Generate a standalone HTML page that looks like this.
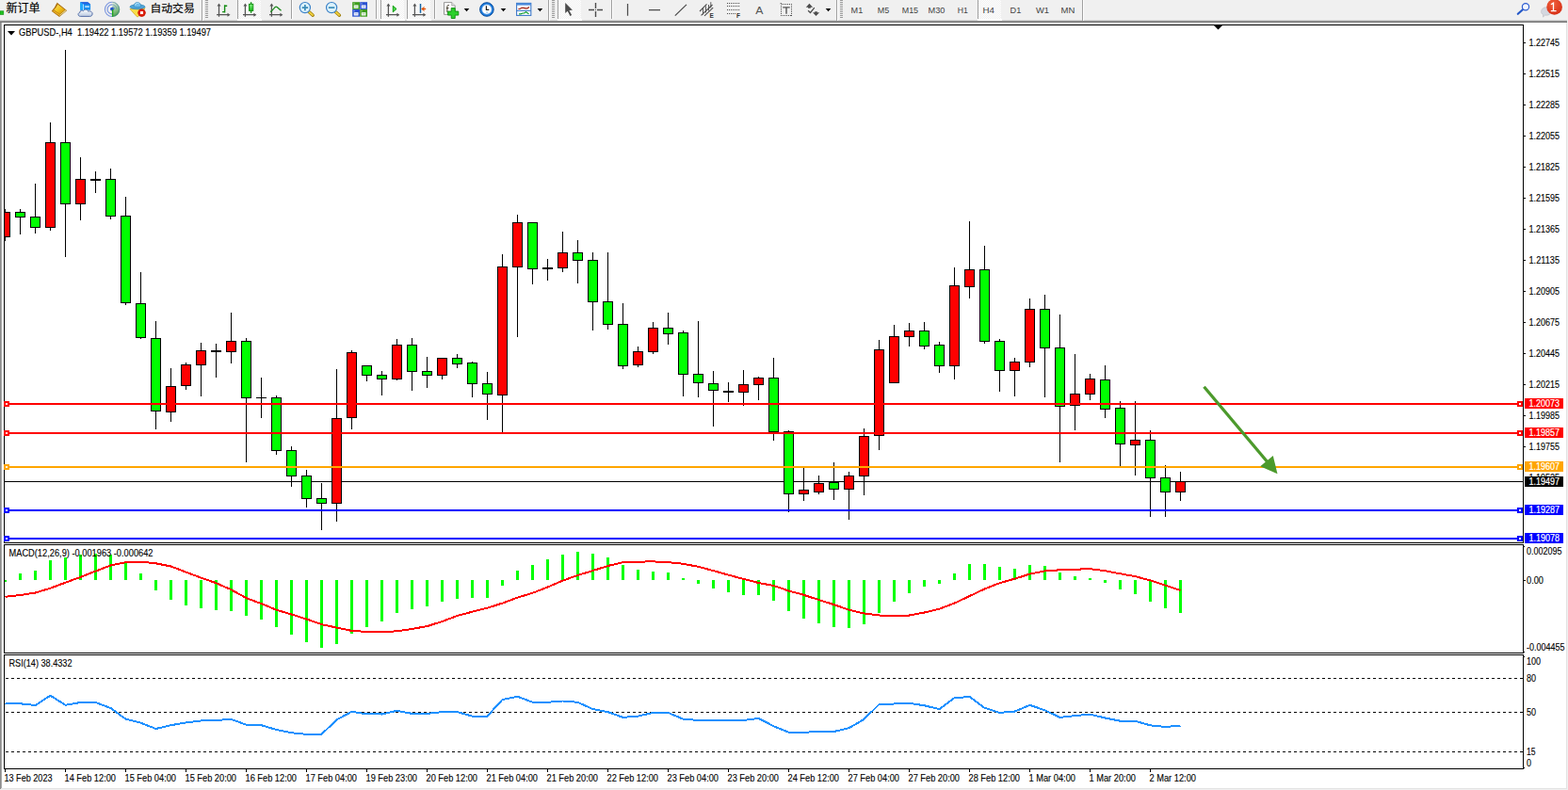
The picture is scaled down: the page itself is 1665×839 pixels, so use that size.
<!DOCTYPE html><html><head><meta charset="utf-8"><title>GBPUSD H4</title>
<style>html,body{margin:0;padding:0;background:#fff;overflow:hidden}svg{display:block}text{font-family:"Liberation Sans",sans-serif;font-size:10.200px;fill:#000;stroke:#000;stroke-width:.12px}.w{fill:#fff;stroke:#fff;stroke-width:.2px}</style></head><body>
<svg width="1665" height="839" viewBox="0 0 1665 839">
<rect width="1665" height="839" fill="#fff"/>
<rect width="1665" height="22" fill="#f0f0f0"/>
<g shape-rendering="crispEdges">
<rect x="0" y="22" width="1664" height="1" fill="#a0a0a0"/><rect x="0" y="23" width="1663" height="1" fill="#696969"/>
<rect x="0" y="22" width="1" height="817" fill="#8c8c8c"/><rect x="1" y="23" width="1" height="815" fill="#a8a8a8"/>
<rect x="1663" y="23" width="1" height="815" fill="#e3e3e3"/><rect x="1664" y="22" width="1" height="817" fill="#f0f0f0"/>
<rect x="1" y="837" width="1663" height="1" fill="#e3e3e3"/><rect x="0" y="838" width="1665" height="1" fill="#f0f0f0"/>
<rect x="4" y="26" width="1614" height="1" fill="#000"/><rect x="4" y="576" width="1614" height="1" fill="#000"/>
<rect x="4" y="26" width="1" height="551" fill="#000"/><rect x="1617" y="26" width="1" height="551" fill="#000"/>
<rect x="4" y="578" width="1614" height="1" fill="#000"/><rect x="4" y="693" width="1614" height="1" fill="#000"/>
<rect x="4" y="578" width="1" height="116" fill="#000"/><rect x="1617" y="578" width="1" height="116" fill="#000"/>
<rect x="4" y="695" width="1614" height="1" fill="#000"/><rect x="4" y="816" width="1614" height="1" fill="#000"/>
<rect x="4" y="695" width="1" height="122" fill="#000"/><rect x="1617" y="695" width="1" height="122" fill="#000"/>
</g>
<defs><clipPath id="c1"><rect x="5" y="27" width="1612" height="549"/></clipPath><clipPath id="c2"><rect x="5" y="579" width="1612" height="114"/></clipPath><clipPath id="c3"><rect x="5" y="696" width="1612" height="120"/></clipPath></defs>
<g shape-rendering="crispEdges" clip-path="url(#c1)">
<rect x="5" y="511" width="1612" height="1" fill="#000"/>
<rect x="5" y="222" width="1" height="34" fill="#000"/>
<rect x="0" y="225" width="11" height="27" fill="#000"/>
<rect x="1" y="226" width="9" height="25" fill="#ff0000"/>
<rect x="21" y="222" width="1" height="27" fill="#000"/>
<rect x="16" y="225" width="11" height="6" fill="#000"/>
<rect x="17" y="226" width="9" height="4" fill="#00ff00"/>
<rect x="37" y="195" width="1" height="53" fill="#000"/>
<rect x="32" y="230" width="11" height="12" fill="#000"/>
<rect x="33" y="231" width="9" height="10" fill="#00ff00"/>
<rect x="53" y="130" width="1" height="115" fill="#000"/>
<rect x="48" y="151" width="11" height="91" fill="#000"/>
<rect x="49" y="152" width="9" height="89" fill="#ff0000"/>
<rect x="69" y="53" width="1" height="220" fill="#000"/>
<rect x="64" y="151" width="11" height="66" fill="#000"/>
<rect x="65" y="152" width="9" height="64" fill="#00ff00"/>
<rect x="85" y="167" width="1" height="67" fill="#000"/>
<rect x="80" y="190" width="11" height="27" fill="#000"/>
<rect x="81" y="191" width="9" height="25" fill="#ff0000"/>
<rect x="101" y="182" width="1" height="23" fill="#000"/>
<rect x="96" y="190" width="11" height="2" fill="#000"/>
<rect x="117" y="179" width="1" height="54" fill="#000"/>
<rect x="112" y="190" width="11" height="40" fill="#000"/>
<rect x="113" y="191" width="9" height="38" fill="#00ff00"/>
<rect x="133" y="209" width="1" height="115" fill="#000"/>
<rect x="128" y="229" width="11" height="93" fill="#000"/>
<rect x="129" y="230" width="9" height="91" fill="#00ff00"/>
<rect x="149" y="289" width="1" height="71" fill="#000"/>
<rect x="144" y="322" width="11" height="37" fill="#000"/>
<rect x="145" y="323" width="9" height="35" fill="#00ff00"/>
<rect x="165" y="341" width="1" height="115" fill="#000"/>
<rect x="160" y="359" width="11" height="78" fill="#000"/>
<rect x="161" y="360" width="9" height="76" fill="#00ff00"/>
<rect x="181" y="391" width="1" height="57" fill="#000"/>
<rect x="176" y="410" width="11" height="28" fill="#000"/>
<rect x="177" y="411" width="9" height="26" fill="#ff0000"/>
<rect x="197" y="385" width="1" height="29" fill="#000"/>
<rect x="192" y="387" width="11" height="23" fill="#000"/>
<rect x="193" y="388" width="9" height="21" fill="#ff0000"/>
<rect x="213" y="364" width="1" height="57" fill="#000"/>
<rect x="208" y="372" width="11" height="16" fill="#000"/>
<rect x="209" y="373" width="9" height="14" fill="#ff0000"/>
<rect x="229" y="365" width="1" height="36" fill="#000"/>
<rect x="224" y="372" width="11" height="2" fill="#000"/>
<rect x="245" y="332" width="1" height="54" fill="#000"/>
<rect x="240" y="362" width="11" height="12" fill="#000"/>
<rect x="241" y="363" width="9" height="10" fill="#ff0000"/>
<rect x="261" y="359" width="1" height="132" fill="#000"/>
<rect x="256" y="362" width="11" height="61" fill="#000"/>
<rect x="257" y="363" width="9" height="59" fill="#00ff00"/>
<rect x="277" y="401" width="1" height="43" fill="#000"/>
<rect x="272" y="422" width="11" height="1" fill="#000"/>
<rect x="293" y="420" width="1" height="63" fill="#000"/>
<rect x="288" y="422" width="11" height="57" fill="#000"/>
<rect x="289" y="423" width="9" height="55" fill="#00ff00"/>
<rect x="309" y="474" width="1" height="43" fill="#000"/>
<rect x="304" y="478" width="11" height="28" fill="#000"/>
<rect x="305" y="479" width="9" height="26" fill="#00ff00"/>
<rect x="325" y="499" width="1" height="40" fill="#000"/>
<rect x="320" y="505" width="11" height="25" fill="#000"/>
<rect x="321" y="506" width="9" height="23" fill="#00ff00"/>
<rect x="341" y="513" width="1" height="50" fill="#000"/>
<rect x="336" y="529" width="11" height="6" fill="#000"/>
<rect x="337" y="530" width="9" height="4" fill="#00ff00"/>
<rect x="357" y="392" width="1" height="162" fill="#000"/>
<rect x="352" y="444" width="11" height="91" fill="#000"/>
<rect x="353" y="445" width="9" height="89" fill="#ff0000"/>
<rect x="373" y="372" width="1" height="84" fill="#000"/>
<rect x="368" y="374" width="11" height="70" fill="#000"/>
<rect x="369" y="375" width="9" height="68" fill="#ff0000"/>
<rect x="389" y="388" width="1" height="17" fill="#000"/>
<rect x="384" y="388" width="11" height="11" fill="#000"/>
<rect x="385" y="389" width="9" height="9" fill="#00ff00"/>
<rect x="405" y="394" width="1" height="26" fill="#000"/>
<rect x="400" y="398" width="11" height="5" fill="#000"/>
<rect x="401" y="399" width="9" height="3" fill="#00ff00"/>
<rect x="421" y="360" width="1" height="44" fill="#000"/>
<rect x="416" y="366" width="11" height="37" fill="#000"/>
<rect x="417" y="367" width="9" height="35" fill="#ff0000"/>
<rect x="437" y="359" width="1" height="56" fill="#000"/>
<rect x="432" y="366" width="11" height="29" fill="#000"/>
<rect x="433" y="367" width="9" height="27" fill="#00ff00"/>
<rect x="453" y="379" width="1" height="33" fill="#000"/>
<rect x="448" y="394" width="11" height="5" fill="#000"/>
<rect x="449" y="395" width="9" height="3" fill="#00ff00"/>
<rect x="469" y="380" width="1" height="23" fill="#000"/>
<rect x="464" y="380" width="11" height="19" fill="#000"/>
<rect x="465" y="381" width="9" height="17" fill="#ff0000"/>
<rect x="485" y="376" width="1" height="15" fill="#000"/>
<rect x="480" y="380" width="11" height="7" fill="#000"/>
<rect x="481" y="381" width="9" height="5" fill="#00ff00"/>
<rect x="501" y="384" width="1" height="38" fill="#000"/>
<rect x="496" y="385" width="11" height="23" fill="#000"/>
<rect x="497" y="386" width="9" height="21" fill="#00ff00"/>
<rect x="517" y="395" width="1" height="51" fill="#000"/>
<rect x="512" y="407" width="11" height="12" fill="#000"/>
<rect x="513" y="408" width="9" height="10" fill="#00ff00"/>
<rect x="533" y="270" width="1" height="190" fill="#000"/>
<rect x="528" y="283" width="11" height="137" fill="#000"/>
<rect x="529" y="284" width="9" height="135" fill="#ff0000"/>
<rect x="549" y="228" width="1" height="130" fill="#000"/>
<rect x="544" y="236" width="11" height="48" fill="#000"/>
<rect x="545" y="237" width="9" height="46" fill="#ff0000"/>
<rect x="565" y="236" width="1" height="66" fill="#000"/>
<rect x="560" y="236" width="11" height="50" fill="#000"/>
<rect x="561" y="237" width="9" height="48" fill="#00ff00"/>
<rect x="581" y="275" width="1" height="23" fill="#000"/>
<rect x="576" y="284" width="11" height="2" fill="#000"/>
<rect x="597" y="246" width="1" height="43" fill="#000"/>
<rect x="592" y="268" width="11" height="17" fill="#000"/>
<rect x="593" y="269" width="9" height="15" fill="#ff0000"/>
<rect x="613" y="255" width="1" height="46" fill="#000"/>
<rect x="608" y="268" width="11" height="9" fill="#000"/>
<rect x="609" y="269" width="9" height="7" fill="#00ff00"/>
<rect x="629" y="268" width="1" height="83" fill="#000"/>
<rect x="624" y="276" width="11" height="45" fill="#000"/>
<rect x="625" y="277" width="9" height="43" fill="#00ff00"/>
<rect x="645" y="268" width="1" height="82" fill="#000"/>
<rect x="640" y="320" width="11" height="25" fill="#000"/>
<rect x="641" y="321" width="9" height="23" fill="#00ff00"/>
<rect x="661" y="322" width="1" height="70" fill="#000"/>
<rect x="656" y="344" width="11" height="45" fill="#000"/>
<rect x="657" y="345" width="9" height="43" fill="#00ff00"/>
<rect x="677" y="368" width="1" height="22" fill="#000"/>
<rect x="672" y="373" width="11" height="15" fill="#000"/>
<rect x="673" y="374" width="9" height="13" fill="#ff0000"/>
<rect x="693" y="342" width="1" height="34" fill="#000"/>
<rect x="688" y="348" width="11" height="26" fill="#000"/>
<rect x="689" y="349" width="9" height="24" fill="#ff0000"/>
<rect x="709" y="332" width="1" height="34" fill="#000"/>
<rect x="704" y="348" width="11" height="7" fill="#000"/>
<rect x="705" y="349" width="9" height="5" fill="#00ff00"/>
<rect x="725" y="351" width="1" height="70" fill="#000"/>
<rect x="720" y="353" width="11" height="45" fill="#000"/>
<rect x="721" y="354" width="9" height="43" fill="#00ff00"/>
<rect x="741" y="341" width="1" height="81" fill="#000"/>
<rect x="736" y="397" width="11" height="10" fill="#000"/>
<rect x="737" y="398" width="9" height="8" fill="#00ff00"/>
<rect x="757" y="394" width="1" height="59" fill="#000"/>
<rect x="752" y="407" width="11" height="8" fill="#000"/>
<rect x="753" y="408" width="9" height="6" fill="#00ff00"/>
<rect x="773" y="406" width="1" height="21" fill="#000"/>
<rect x="768" y="415" width="11" height="2" fill="#000"/>
<rect x="789" y="393" width="1" height="38" fill="#000"/>
<rect x="784" y="408" width="11" height="9" fill="#000"/>
<rect x="785" y="409" width="9" height="7" fill="#ff0000"/>
<rect x="805" y="400" width="1" height="25" fill="#000"/>
<rect x="800" y="401" width="11" height="8" fill="#000"/>
<rect x="801" y="402" width="9" height="6" fill="#ff0000"/>
<rect x="821" y="380" width="1" height="88" fill="#000"/>
<rect x="816" y="401" width="11" height="58" fill="#000"/>
<rect x="817" y="402" width="9" height="56" fill="#00ff00"/>
<rect x="837" y="457" width="1" height="87" fill="#000"/>
<rect x="832" y="458" width="11" height="67" fill="#000"/>
<rect x="833" y="459" width="9" height="65" fill="#00ff00"/>
<rect x="853" y="497" width="1" height="35" fill="#000"/>
<rect x="848" y="520" width="11" height="5" fill="#000"/>
<rect x="849" y="521" width="9" height="3" fill="#ff0000"/>
<rect x="869" y="505" width="1" height="20" fill="#000"/>
<rect x="864" y="513" width="11" height="10" fill="#000"/>
<rect x="865" y="514" width="9" height="8" fill="#ff0000"/>
<rect x="885" y="491" width="1" height="40" fill="#000"/>
<rect x="880" y="512" width="11" height="8" fill="#000"/>
<rect x="881" y="513" width="9" height="6" fill="#00ff00"/>
<rect x="901" y="501" width="1" height="51" fill="#000"/>
<rect x="896" y="505" width="11" height="15" fill="#000"/>
<rect x="897" y="506" width="9" height="13" fill="#ff0000"/>
<rect x="917" y="455" width="1" height="71" fill="#000"/>
<rect x="912" y="463" width="11" height="43" fill="#000"/>
<rect x="913" y="464" width="9" height="41" fill="#ff0000"/>
<rect x="933" y="361" width="1" height="117" fill="#000"/>
<rect x="928" y="371" width="11" height="92" fill="#000"/>
<rect x="929" y="372" width="9" height="90" fill="#ff0000"/>
<rect x="949" y="345" width="1" height="62" fill="#000"/>
<rect x="944" y="357" width="11" height="50" fill="#000"/>
<rect x="945" y="358" width="9" height="48" fill="#ff0000"/>
<rect x="965" y="343" width="1" height="25" fill="#000"/>
<rect x="960" y="351" width="11" height="7" fill="#000"/>
<rect x="961" y="352" width="9" height="5" fill="#ff0000"/>
<rect x="981" y="342" width="1" height="29" fill="#000"/>
<rect x="976" y="351" width="11" height="17" fill="#000"/>
<rect x="977" y="352" width="9" height="15" fill="#00ff00"/>
<rect x="997" y="363" width="1" height="33" fill="#000"/>
<rect x="992" y="366" width="11" height="23" fill="#000"/>
<rect x="993" y="367" width="9" height="21" fill="#00ff00"/>
<rect x="1013" y="284" width="1" height="119" fill="#000"/>
<rect x="1008" y="303" width="11" height="86" fill="#000"/>
<rect x="1009" y="304" width="9" height="84" fill="#ff0000"/>
<rect x="1029" y="235" width="1" height="82" fill="#000"/>
<rect x="1024" y="286" width="11" height="19" fill="#000"/>
<rect x="1025" y="287" width="9" height="17" fill="#ff0000"/>
<rect x="1045" y="261" width="1" height="104" fill="#000"/>
<rect x="1040" y="286" width="11" height="77" fill="#000"/>
<rect x="1041" y="287" width="9" height="75" fill="#00ff00"/>
<rect x="1061" y="360" width="1" height="56" fill="#000"/>
<rect x="1056" y="362" width="11" height="32" fill="#000"/>
<rect x="1057" y="363" width="9" height="30" fill="#00ff00"/>
<rect x="1077" y="380" width="1" height="41" fill="#000"/>
<rect x="1072" y="384" width="11" height="10" fill="#000"/>
<rect x="1073" y="385" width="9" height="8" fill="#ff0000"/>
<rect x="1093" y="317" width="1" height="73" fill="#000"/>
<rect x="1088" y="328" width="11" height="57" fill="#000"/>
<rect x="1089" y="329" width="9" height="55" fill="#ff0000"/>
<rect x="1109" y="313" width="1" height="109" fill="#000"/>
<rect x="1104" y="328" width="11" height="42" fill="#000"/>
<rect x="1105" y="329" width="9" height="40" fill="#00ff00"/>
<rect x="1125" y="334" width="1" height="157" fill="#000"/>
<rect x="1120" y="369" width="11" height="63" fill="#000"/>
<rect x="1121" y="370" width="9" height="61" fill="#00ff00"/>
<rect x="1141" y="376" width="1" height="81" fill="#000"/>
<rect x="1136" y="418" width="11" height="13" fill="#000"/>
<rect x="1137" y="419" width="9" height="11" fill="#ff0000"/>
<rect x="1157" y="397" width="1" height="28" fill="#000"/>
<rect x="1152" y="402" width="11" height="17" fill="#000"/>
<rect x="1153" y="403" width="9" height="15" fill="#ff0000"/>
<rect x="1173" y="388" width="1" height="56" fill="#000"/>
<rect x="1168" y="403" width="11" height="32" fill="#000"/>
<rect x="1169" y="404" width="9" height="30" fill="#00ff00"/>
<rect x="1189" y="426" width="1" height="70" fill="#000"/>
<rect x="1184" y="433" width="11" height="39" fill="#000"/>
<rect x="1185" y="434" width="9" height="37" fill="#00ff00"/>
<rect x="1205" y="426" width="1" height="79" fill="#000"/>
<rect x="1200" y="467" width="11" height="6" fill="#000"/>
<rect x="1201" y="468" width="9" height="4" fill="#ff0000"/>
<rect x="1221" y="457" width="1" height="92" fill="#000"/>
<rect x="1216" y="467" width="11" height="41" fill="#000"/>
<rect x="1217" y="468" width="9" height="39" fill="#00ff00"/>
<rect x="1237" y="494" width="1" height="55" fill="#000"/>
<rect x="1232" y="507" width="11" height="16" fill="#000"/>
<rect x="1233" y="508" width="9" height="14" fill="#00ff00"/>
<rect x="1253" y="501" width="1" height="31" fill="#000"/>
<rect x="1248" y="511" width="11" height="12" fill="#000"/>
<rect x="1249" y="512" width="9" height="10" fill="#ff0000"/>
<rect x="5" y="428" width="1612" height="2" fill="#ff0000"/>
<rect x="5" y="459" width="1612" height="2" fill="#ff0000"/>
<rect x="5" y="495" width="1612" height="2" fill="#ffa500"/>
<rect x="5" y="541" width="1612" height="2" fill="#0000ff"/>
<rect x="5" y="571" width="1612" height="2" fill="#0000ff"/>
</g>
<g shape-rendering="crispEdges">
<rect x="4" y="426" width="6" height="6" fill="#ff0000"/><rect x="6" y="428" width="2" height="2" fill="#fff"/>
<rect x="1611" y="426" width="6" height="6" fill="#ff0000"/><rect x="1613" y="428" width="2" height="2" fill="#fff"/>
<rect x="1619" y="423" width="41" height="11" fill="#ff0000"/>
<rect x="4" y="457" width="6" height="6" fill="#ff0000"/><rect x="6" y="459" width="2" height="2" fill="#fff"/>
<rect x="1611" y="457" width="6" height="6" fill="#ff0000"/><rect x="1613" y="459" width="2" height="2" fill="#fff"/>
<rect x="1619" y="454" width="41" height="11" fill="#ff0000"/>
<rect x="4" y="493" width="6" height="6" fill="#ffa500"/><rect x="6" y="495" width="2" height="2" fill="#fff"/>
<rect x="1611" y="493" width="6" height="6" fill="#ffa500"/><rect x="1613" y="495" width="2" height="2" fill="#fff"/>
<rect x="1619" y="490" width="41" height="11" fill="#ffa500"/>
<rect x="4" y="539" width="6" height="6" fill="#0000ff"/><rect x="6" y="541" width="2" height="2" fill="#fff"/>
<rect x="1611" y="539" width="6" height="6" fill="#0000ff"/><rect x="1613" y="541" width="2" height="2" fill="#fff"/>
<rect x="1619" y="536" width="41" height="11" fill="#0000ff"/>
<rect x="4" y="569" width="6" height="6" fill="#0000ff"/><rect x="6" y="571" width="2" height="2" fill="#fff"/>
<rect x="1611" y="569" width="6" height="6" fill="#0000ff"/><rect x="1613" y="571" width="2" height="2" fill="#fff"/>
<rect x="1619" y="566" width="41" height="11" fill="#0000ff"/>
<rect x="1619" y="506" width="41" height="11" fill="#000"/>
<rect x="1618" y="45" width="2" height="1" fill="#000"/>
<rect x="1618" y="78" width="2" height="1" fill="#000"/>
<rect x="1618" y="111" width="2" height="1" fill="#000"/>
<rect x="1618" y="144" width="2" height="1" fill="#000"/>
<rect x="1618" y="177" width="2" height="1" fill="#000"/>
<rect x="1618" y="210" width="2" height="1" fill="#000"/>
<rect x="1618" y="243" width="2" height="1" fill="#000"/>
<rect x="1618" y="276" width="2" height="1" fill="#000"/>
<rect x="1618" y="309" width="2" height="1" fill="#000"/>
<rect x="1618" y="342" width="2" height="1" fill="#000"/>
<rect x="1618" y="375" width="2" height="1" fill="#000"/>
<rect x="1618" y="408" width="2" height="1" fill="#000"/>
<rect x="1618" y="441" width="2" height="1" fill="#000"/>
<rect x="1618" y="474" width="2" height="1" fill="#000"/>
</g>
<text x="1623.5" y="49" textLength="32.5" lengthAdjust="spacingAndGlyphs">1.22745</text>
<text x="1623.5" y="82" textLength="32.5" lengthAdjust="spacingAndGlyphs">1.22515</text>
<text x="1623.5" y="115" textLength="32.5" lengthAdjust="spacingAndGlyphs">1.22285</text>
<text x="1623.5" y="148" textLength="32.5" lengthAdjust="spacingAndGlyphs">1.22055</text>
<text x="1623.5" y="181" textLength="32.5" lengthAdjust="spacingAndGlyphs">1.21825</text>
<text x="1623.5" y="214" textLength="32.5" lengthAdjust="spacingAndGlyphs">1.21595</text>
<text x="1623.5" y="247" textLength="32.5" lengthAdjust="spacingAndGlyphs">1.21365</text>
<text x="1623.5" y="280" textLength="32.5" lengthAdjust="spacingAndGlyphs">1.21135</text>
<text x="1623.5" y="313" textLength="32.5" lengthAdjust="spacingAndGlyphs">1.20905</text>
<text x="1623.5" y="346" textLength="32.5" lengthAdjust="spacingAndGlyphs">1.20675</text>
<text x="1623.5" y="379" textLength="32.5" lengthAdjust="spacingAndGlyphs">1.20445</text>
<text x="1623.5" y="412" textLength="32.5" lengthAdjust="spacingAndGlyphs">1.20215</text>
<text x="1623.5" y="445" textLength="32.5" lengthAdjust="spacingAndGlyphs">1.19985</text>
<text x="1623.5" y="478" textLength="32.5" lengthAdjust="spacingAndGlyphs">1.19755</text>
<text x="1623.5" y="511" textLength="32.5" lengthAdjust="spacingAndGlyphs">1.19525</text>
<rect x="1619" y="506" width="41" height="11" fill="#000"/>
<text x="1623.5" y="432" class="w" textLength="32.5" lengthAdjust="spacingAndGlyphs">1.20073</text>
<text x="1623.5" y="463" class="w" textLength="32.5" lengthAdjust="spacingAndGlyphs">1.19857</text>
<text x="1623.5" y="499" class="w" textLength="32.5" lengthAdjust="spacingAndGlyphs">1.19607</text>
<text x="1623.5" y="545" class="w" textLength="32.5" lengthAdjust="spacingAndGlyphs">1.19287</text>
<text x="1623.5" y="575" class="w" textLength="32.5" lengthAdjust="spacingAndGlyphs">1.19078</text>
<text x="1623.5" y="515" class="w" textLength="32.5" lengthAdjust="spacingAndGlyphs">1.19497</text>
<path d="M8 33h8l-4 4.5z" fill="#000"/>
<text x="20" y="38" textLength="204" lengthAdjust="spacingAndGlyphs" xml:space="preserve">GBPUSD-,H4&#160;&#160;1.19422 1.19572 1.19359 1.19497</text>
<path d="M1289 27h9l-4.5 4.5z" fill="#000"/>
<g><line x1="1278.5" y1="410.800" x2="1345.500" y2="490.200" stroke="#4c9a2c" stroke-width="3.300"/><path d="M1356.500 503.300L1351.800 484L1338.200 495.300z" fill="#4c9a2c"/></g>
<g shape-rendering="crispEdges" clip-path="url(#c2)">
<rect x="4" y="616" width="3" height="2" fill="#00ff00"/>
<rect x="20" y="609" width="3" height="7" fill="#00ff00"/>
<rect x="36" y="606" width="3" height="10" fill="#00ff00"/>
<rect x="52" y="595" width="3" height="21" fill="#00ff00"/>
<rect x="68" y="592" width="3" height="24" fill="#00ff00"/>
<rect x="84" y="589" width="3" height="27" fill="#00ff00"/>
<rect x="100" y="588" width="3" height="28" fill="#00ff00"/>
<rect x="116" y="589" width="3" height="27" fill="#00ff00"/>
<rect x="132" y="598" width="3" height="18" fill="#00ff00"/>
<rect x="148" y="609" width="3" height="7" fill="#00ff00"/>
<rect x="164" y="616" width="3" height="11" fill="#00ff00"/>
<rect x="180" y="616" width="3" height="21" fill="#00ff00"/>
<rect x="196" y="616" width="3" height="27" fill="#00ff00"/>
<rect x="212" y="616" width="3" height="30" fill="#00ff00"/>
<rect x="228" y="616" width="3" height="32" fill="#00ff00"/>
<rect x="244" y="616" width="3" height="33" fill="#00ff00"/>
<rect x="260" y="616" width="3" height="38" fill="#00ff00"/>
<rect x="276" y="616" width="3" height="42" fill="#00ff00"/>
<rect x="292" y="616" width="3" height="50" fill="#00ff00"/>
<rect x="308" y="616" width="3" height="58" fill="#00ff00"/>
<rect x="324" y="616" width="3" height="66" fill="#00ff00"/>
<rect x="340" y="616" width="3" height="72" fill="#00ff00"/>
<rect x="356" y="616" width="3" height="68" fill="#00ff00"/>
<rect x="372" y="616" width="3" height="57" fill="#00ff00"/>
<rect x="388" y="616" width="3" height="50" fill="#00ff00"/>
<rect x="404" y="616" width="3" height="44" fill="#00ff00"/>
<rect x="420" y="616" width="3" height="35" fill="#00ff00"/>
<rect x="436" y="616" width="3" height="31" fill="#00ff00"/>
<rect x="452" y="616" width="3" height="28" fill="#00ff00"/>
<rect x="468" y="616" width="3" height="23" fill="#00ff00"/>
<rect x="484" y="616" width="3" height="20" fill="#00ff00"/>
<rect x="500" y="616" width="3" height="19" fill="#00ff00"/>
<rect x="516" y="616" width="3" height="19" fill="#00ff00"/>
<rect x="532" y="616" width="3" height="6" fill="#00ff00"/>
<rect x="548" y="606" width="3" height="10" fill="#00ff00"/>
<rect x="564" y="600" width="3" height="16" fill="#00ff00"/>
<rect x="580" y="594" width="3" height="22" fill="#00ff00"/>
<rect x="596" y="589" width="3" height="27" fill="#00ff00"/>
<rect x="612" y="586" width="3" height="30" fill="#00ff00"/>
<rect x="628" y="588" width="3" height="28" fill="#00ff00"/>
<rect x="644" y="592" width="3" height="24" fill="#00ff00"/>
<rect x="660" y="600" width="3" height="16" fill="#00ff00"/>
<rect x="676" y="605" width="3" height="11" fill="#00ff00"/>
<rect x="692" y="607" width="3" height="9" fill="#00ff00"/>
<rect x="708" y="608" width="3" height="8" fill="#00ff00"/>
<rect x="724" y="614" width="3" height="2" fill="#00ff00"/>
<rect x="740" y="616" width="3" height="4" fill="#00ff00"/>
<rect x="756" y="616" width="3" height="9" fill="#00ff00"/>
<rect x="772" y="616" width="3" height="13" fill="#00ff00"/>
<rect x="788" y="616" width="3" height="16" fill="#00ff00"/>
<rect x="804" y="616" width="3" height="16" fill="#00ff00"/>
<rect x="820" y="616" width="3" height="22" fill="#00ff00"/>
<rect x="836" y="616" width="3" height="33" fill="#00ff00"/>
<rect x="852" y="616" width="3" height="41" fill="#00ff00"/>
<rect x="868" y="616" width="3" height="46" fill="#00ff00"/>
<rect x="884" y="616" width="3" height="50" fill="#00ff00"/>
<rect x="900" y="616" width="3" height="51" fill="#00ff00"/>
<rect x="916" y="616" width="3" height="47" fill="#00ff00"/>
<rect x="932" y="616" width="3" height="35" fill="#00ff00"/>
<rect x="948" y="616" width="3" height="23" fill="#00ff00"/>
<rect x="964" y="616" width="3" height="14" fill="#00ff00"/>
<rect x="980" y="616" width="3" height="7" fill="#00ff00"/>
<rect x="996" y="616" width="3" height="4" fill="#00ff00"/>
<rect x="1012" y="609" width="3" height="7" fill="#00ff00"/>
<rect x="1028" y="599" width="3" height="17" fill="#00ff00"/>
<rect x="1044" y="599" width="3" height="17" fill="#00ff00"/>
<rect x="1060" y="602" width="3" height="14" fill="#00ff00"/>
<rect x="1076" y="604" width="3" height="12" fill="#00ff00"/>
<rect x="1092" y="600" width="3" height="16" fill="#00ff00"/>
<rect x="1108" y="601" width="3" height="15" fill="#00ff00"/>
<rect x="1124" y="608" width="3" height="8" fill="#00ff00"/>
<rect x="1140" y="612" width="3" height="4" fill="#00ff00"/>
<rect x="1156" y="614" width="3" height="2" fill="#00ff00"/>
<rect x="1172" y="616" width="3" height="3" fill="#00ff00"/>
<rect x="1188" y="616" width="3" height="10" fill="#00ff00"/>
<rect x="1204" y="616" width="3" height="15" fill="#00ff00"/>
<rect x="1220" y="616" width="3" height="23" fill="#00ff00"/>
<rect x="1236" y="616" width="3" height="30" fill="#00ff00"/>
<rect x="1252" y="616" width="3" height="35" fill="#00ff00"/>
</g>
<polyline points="5.5,633.8 21.5,632.0 37.5,629.5 53.5,624.7 69.5,618.7 85.5,612.9 101.5,606.6 117.5,600.5 133.5,597.2 149.5,596.7 165.5,598.3 181.5,601.5 197.5,607.6 213.5,613.6 229.5,619.2 245.5,626.3 261.5,635.1 277.5,641.1 293.5,647.7 309.5,652.5 325.5,657.5 341.5,663.1 357.5,666.6 373.5,669.9 389.5,670.9 405.5,670.9 421.5,670.4 437.5,667.9 453.5,665.1 469.5,660.0 485.5,654.0 501.5,649.7 517.5,645.7 533.5,640.6 549.5,634.6 565.5,629.8 581.5,623.5 597.5,616.7 613.5,610.9 629.5,606.1 645.5,601.0 661.5,597.2 677.5,596.6 693.5,596.4 709.5,597.2 725.5,598.8 741.5,601.8 757.5,606.1 773.5,610.6 789.5,614.9 805.5,619.0 821.5,622.0 837.5,627.5 853.5,631.8 869.5,637.1 885.5,642.1 901.5,647.7 917.5,651.5 933.5,653.5 949.5,653.5 965.5,653.5 981.5,650.5 997.5,646.7 1013.5,640.6 1029.5,633.1 1045.5,625.5 1061.5,619.2 1077.5,614.7 1093.5,609.6 1109.5,606.4 1125.5,605.3 1141.5,604.7 1157.5,604.2 1173.5,606.2 1189.5,609.3 1205.5,612.2 1221.5,616.4 1237.5,621.6 1253.5,627.0" fill="none" stroke="#ff0000" stroke-width="2" stroke-linejoin="round" shape-rendering="crispEdges" clip-path="url(#c2)"/>
<text x="9.5" y="591" textLength="153" lengthAdjust="spacingAndGlyphs">MACD(12,26,9) -0.001963 -0.000642</text>
<g shape-rendering="crispEdges"><rect x="1618" y="580" width="1" height="1" fill="#000"/><rect x="1618" y="616" width="2" height="1" fill="#000"/><rect x="1618" y="692" width="1" height="1" fill="#000"/><rect x="1618" y="697" width="1" height="1" fill="#000"/><rect x="1618" y="815" width="1" height="1" fill="#000"/></g>
<text x="1621" y="589" textLength="37.5" lengthAdjust="spacingAndGlyphs">0.002095</text>
<text x="1621" y="620" textLength="18" lengthAdjust="spacingAndGlyphs">0.00</text>
<text x="1621" y="690.5" textLength="40.5" lengthAdjust="spacingAndGlyphs">-0.004455</text>
<g shape-rendering="crispEdges">
<line x1="6" y1="720.5" x2="1617" y2="720.5" stroke="#000" stroke-width="1" stroke-dasharray="3 3"/>
<line x1="6" y1="756.5" x2="1617" y2="756.5" stroke="#000" stroke-width="1" stroke-dasharray="3 3"/>
<line x1="6" y1="798.5" x2="1617" y2="798.5" stroke="#000" stroke-width="1" stroke-dasharray="3 3"/>
</g>
<polyline points="5.5,747.0 21.5,747.3 37.5,749.0 53.5,738.7 69.5,748.8 85.5,746.0 101.5,746.0 117.5,752.0 133.5,763.7 149.5,767.7 165.5,774.0 181.5,770.2 197.5,767.4 213.5,765.4 229.5,764.9 245.5,763.9 261.5,769.7 277.5,770.2 293.5,775.0 309.5,778.3 325.5,779.8 341.5,779.8 357.5,764.4 373.5,755.8 389.5,758.4 405.5,758.5 421.5,754.8 437.5,757.9 453.5,757.9 469.5,756.1 485.5,756.1 501.5,760.6 517.5,760.6 533.5,743.0 549.5,739.7 565.5,745.8 581.5,745.8 597.5,744.5 613.5,745.8 629.5,753.1 645.5,756.1 661.5,761.9 677.5,760.6 693.5,756.9 709.5,756.9 725.5,763.7 741.5,764.9 757.5,764.9 773.5,764.9 789.5,764.9 805.5,762.9 821.5,771.2 837.5,777.8 853.5,777.8 869.5,777.0 885.5,777.0 901.5,773.2 917.5,763.9 933.5,748.0 949.5,747.5 965.5,746.8 981.5,749.3 997.5,753.1 1013.5,741.2 1029.5,740.0 1045.5,751.8 1061.5,756.9 1077.5,755.6 1093.5,748.8 1109.5,754.3 1125.5,761.9 1141.5,760.1 1157.5,758.6 1173.5,762.5 1189.5,765.7 1205.5,765.7 1221.5,770.4 1237.5,771.9 1253.5,770.7" fill="none" stroke="#1e90ff" stroke-width="2" stroke-linejoin="round" shape-rendering="crispEdges" clip-path="url(#c3)"/>
<text x="9.5" y="708" textLength="67" lengthAdjust="spacingAndGlyphs">RSI(14) 38.4332</text>
<text x="1621" y="706" textLength="15" lengthAdjust="spacingAndGlyphs">100</text>
<text x="1621" y="724" textLength="10" lengthAdjust="spacingAndGlyphs">80</text>
<text x="1621" y="760" textLength="10" lengthAdjust="spacingAndGlyphs">50</text>
<text x="1621" y="802" textLength="9.5" lengthAdjust="spacingAndGlyphs">15</text>
<text x="1621" y="814" textLength="5" lengthAdjust="spacingAndGlyphs">0</text>
<g shape-rendering="crispEdges">
<rect x="5" y="817" width="1" height="3" fill="#000"/>
<rect x="69" y="817" width="1" height="3" fill="#000"/>
<rect x="133" y="817" width="1" height="3" fill="#000"/>
<rect x="197" y="817" width="1" height="3" fill="#000"/>
<rect x="261" y="817" width="1" height="3" fill="#000"/>
<rect x="325" y="817" width="1" height="3" fill="#000"/>
<rect x="389" y="817" width="1" height="3" fill="#000"/>
<rect x="453" y="817" width="1" height="3" fill="#000"/>
<rect x="517" y="817" width="1" height="3" fill="#000"/>
<rect x="581" y="817" width="1" height="3" fill="#000"/>
<rect x="645" y="817" width="1" height="3" fill="#000"/>
<rect x="709" y="817" width="1" height="3" fill="#000"/>
<rect x="773" y="817" width="1" height="3" fill="#000"/>
<rect x="837" y="817" width="1" height="3" fill="#000"/>
<rect x="901" y="817" width="1" height="3" fill="#000"/>
<rect x="965" y="817" width="1" height="3" fill="#000"/>
<rect x="1029" y="817" width="1" height="3" fill="#000"/>
<rect x="1093" y="817" width="1" height="3" fill="#000"/>
<rect x="1157" y="817" width="1" height="3" fill="#000"/>
<rect x="1221" y="817" width="1" height="3" fill="#000"/>
</g>
<text x="4.5" y="829.5" textLength="51" lengthAdjust="spacingAndGlyphs">13 Feb 2023</text>
<text x="68.5" y="829.5" textLength="54.5" lengthAdjust="spacingAndGlyphs">14 Feb 12:00</text>
<text x="132.5" y="829.5" textLength="54.5" lengthAdjust="spacingAndGlyphs">15 Feb 04:00</text>
<text x="196.5" y="829.5" textLength="54.5" lengthAdjust="spacingAndGlyphs">15 Feb 20:00</text>
<text x="260.5" y="829.5" textLength="54.5" lengthAdjust="spacingAndGlyphs">16 Feb 12:00</text>
<text x="324.5" y="829.5" textLength="54.5" lengthAdjust="spacingAndGlyphs">17 Feb 04:00</text>
<text x="388.5" y="829.5" textLength="54.5" lengthAdjust="spacingAndGlyphs">19 Feb 23:00</text>
<text x="452.5" y="829.5" textLength="54.5" lengthAdjust="spacingAndGlyphs">20 Feb 12:00</text>
<text x="516.5" y="829.5" textLength="54.5" lengthAdjust="spacingAndGlyphs">21 Feb 04:00</text>
<text x="580.5" y="829.5" textLength="54.5" lengthAdjust="spacingAndGlyphs">21 Feb 20:00</text>
<text x="644.5" y="829.5" textLength="54.5" lengthAdjust="spacingAndGlyphs">22 Feb 12:00</text>
<text x="708.5" y="829.5" textLength="54.5" lengthAdjust="spacingAndGlyphs">23 Feb 04:00</text>
<text x="772.5" y="829.5" textLength="54.5" lengthAdjust="spacingAndGlyphs">23 Feb 20:00</text>
<text x="836.5" y="829.5" textLength="54.5" lengthAdjust="spacingAndGlyphs">24 Feb 12:00</text>
<text x="900.5" y="829.5" textLength="54.5" lengthAdjust="spacingAndGlyphs">27 Feb 04:00</text>
<text x="964.5" y="829.5" textLength="54.5" lengthAdjust="spacingAndGlyphs">27 Feb 20:00</text>
<text x="1028.5" y="829.5" textLength="54.5" lengthAdjust="spacingAndGlyphs">28 Feb 12:00</text>
<text x="1092.5" y="829.5" textLength="49.5" lengthAdjust="spacingAndGlyphs">1 Mar 04:00</text>
<text x="1156.5" y="829.5" textLength="49.5" lengthAdjust="spacingAndGlyphs">1 Mar 20:00</text>
<text x="1220.5" y="829.5" textLength="49.5" lengthAdjust="spacingAndGlyphs">2 Mar 12:00</text>
<defs><pattern id="chk" width="2" height="2" patternUnits="userSpaceOnUse"><rect width="2" height="2" fill="#fff"/><rect width="1" height="1" fill="#f0f0f0"/><rect x="1" y="1" width="1" height="1" fill="#f0f0f0"/></pattern><linearGradient id="gold" x1="0" y1="0" x2="1" y2="1"><stop offset="0" stop-color="#fbe36a"/><stop offset=".5" stop-color="#f2c21a"/><stop offset="1" stop-color="#c8860c"/></linearGradient><linearGradient id="grn" x1="0" y1="0" x2="0" y2="1"><stop offset="0" stop-color="#7df07d"/><stop offset="1" stop-color="#18b818"/></linearGradient><radialGradient id="redb" cx=".4" cy=".3" r=".8"><stop offset="0" stop-color="#f0603c"/><stop offset="1" stop-color="#d42a12"/></radialGradient><linearGradient id="cld" x1="0" y1="0" x2="0" y2="1"><stop offset="0" stop-color="#ffffff"/><stop offset="1" stop-color="#b8c8e0"/></linearGradient><linearGradient id="tbb" x1="0" y1="0" x2="0" y2="1"><stop offset="0" stop-color="#b4b4b4"/><stop offset="1" stop-color="#646464"/></linearGradient></defs>
<rect x="0" y="21.6" width="1664" height="2.4" fill="url(#tbb)"/>
<g shape-rendering="crispEdges">
<rect x="252" y="0" width="25" height="20" fill="url(#chk)"/><rect x="252" y="0" width="1" height="20" fill="#a0a0a0"/><rect x="252" y="20" width="26" height="2" fill="#fff"/>
<rect x="404" y="0" width="25" height="20" fill="url(#chk)"/><rect x="404" y="0" width="1" height="20" fill="#a0a0a0"/><rect x="404" y="20" width="26" height="2" fill="#fff"/>
<rect x="432" y="0" width="25" height="20" fill="url(#chk)"/><rect x="432" y="0" width="1" height="20" fill="#a0a0a0"/><rect x="432" y="20" width="26" height="2" fill="#fff"/>
<rect x="592" y="0" width="25" height="20" fill="url(#chk)"/><rect x="592" y="0" width="1" height="20" fill="#a0a0a0"/><rect x="592" y="20" width="26" height="2" fill="#fff"/>
<rect x="1038" y="0" width="25" height="20" fill="url(#chk)"/><rect x="1038" y="0" width="1" height="20" fill="#a0a0a0"/><rect x="1038" y="20" width="26" height="2" fill="#fff"/>
<rect x="214" y="0" width="1" height="22" fill="#a0a0a0"/><rect x="215" y="0" width="1" height="22" fill="#fff"/>
<rect x="582" y="0" width="1" height="22" fill="#a0a0a0"/><rect x="583" y="0" width="1" height="22" fill="#fff"/>
<rect x="888" y="0" width="1" height="22" fill="#a0a0a0"/><rect x="889" y="0" width="1" height="22" fill="#fff"/>
<rect x="1149" y="0" width="1" height="22" fill="#a0a0a0"/><rect x="1150" y="0" width="1" height="22" fill="#fff"/>
<rect x="309" y="0" width="1" height="20" fill="#a0a0a0"/><rect x="310" y="0" width="1" height="20" fill="#fff"/>
<rect x="399" y="0" width="1" height="20" fill="#a0a0a0"/><rect x="400" y="0" width="1" height="20" fill="#fff"/>
<rect x="461" y="0" width="1" height="20" fill="#a0a0a0"/><rect x="462" y="0" width="1" height="20" fill="#fff"/>
<rect x="649" y="0" width="1" height="20" fill="#a0a0a0"/><rect x="650" y="0" width="1" height="20" fill="#fff"/>
<rect x="218" y="0" width="3" height="1" fill="#9a9a9a"/>
<rect x="218" y="2" width="3" height="1" fill="#9a9a9a"/>
<rect x="218" y="4" width="3" height="1" fill="#9a9a9a"/>
<rect x="218" y="6" width="3" height="1" fill="#9a9a9a"/>
<rect x="218" y="8" width="3" height="1" fill="#9a9a9a"/>
<rect x="218" y="10" width="3" height="1" fill="#9a9a9a"/>
<rect x="218" y="12" width="3" height="1" fill="#9a9a9a"/>
<rect x="218" y="14" width="3" height="1" fill="#9a9a9a"/>
<rect x="218" y="16" width="3" height="1" fill="#9a9a9a"/>
<rect x="218" y="18" width="3" height="1" fill="#9a9a9a"/>
<rect x="586" y="0" width="3" height="1" fill="#9a9a9a"/>
<rect x="586" y="2" width="3" height="1" fill="#9a9a9a"/>
<rect x="586" y="4" width="3" height="1" fill="#9a9a9a"/>
<rect x="586" y="6" width="3" height="1" fill="#9a9a9a"/>
<rect x="586" y="8" width="3" height="1" fill="#9a9a9a"/>
<rect x="586" y="10" width="3" height="1" fill="#9a9a9a"/>
<rect x="586" y="12" width="3" height="1" fill="#9a9a9a"/>
<rect x="586" y="14" width="3" height="1" fill="#9a9a9a"/>
<rect x="586" y="16" width="3" height="1" fill="#9a9a9a"/>
<rect x="586" y="18" width="3" height="1" fill="#9a9a9a"/>
<rect x="892" y="0" width="3" height="1" fill="#9a9a9a"/>
<rect x="892" y="2" width="3" height="1" fill="#9a9a9a"/>
<rect x="892" y="4" width="3" height="1" fill="#9a9a9a"/>
<rect x="892" y="6" width="3" height="1" fill="#9a9a9a"/>
<rect x="892" y="8" width="3" height="1" fill="#9a9a9a"/>
<rect x="892" y="10" width="3" height="1" fill="#9a9a9a"/>
<rect x="892" y="12" width="3" height="1" fill="#9a9a9a"/>
<rect x="892" y="14" width="3" height="1" fill="#9a9a9a"/>
<rect x="892" y="16" width="3" height="1" fill="#9a9a9a"/>
<rect x="892" y="18" width="3" height="1" fill="#9a9a9a"/>
</g>
<rect x="0" y="11.8" width="3.8" height="3.6" fill="#22c322" stroke="#0c8a0c" stroke-width=".6"/>
<text x="6.4" y="13.3" style="font-family:'Liberation Sans','Noto Sans CJK SC',sans-serif;font-size:12.1px;fill:#000;stroke:#000;stroke-width:.17px" textLength="36.3" lengthAdjust="spacingAndGlyphs">新订单</text>
<path d="M60.700 3.300L70.600 11.200L63 17.500L55.200 11.800Q58.600 8.400 60.700 3.300z" fill="#b0700c" stroke="#a4680a" stroke-width=".8" stroke-linejoin="round"/><path d="M69.600 10.500L70.300 11.400L63.200 17L63.300 15.700z" fill="#e4d890"/><path d="M56 12L63 16.800L63.400 15.300L57 10.900z" fill="#e8b024"/><path d="M61.300 4.700L69 10.500L63.600 15L57.300 10.600Q59.800 8 61.300 4.700z" fill="url(#gold)"/>
<path d="M85.200 2.300H93.100L96.100 4.500V10.800H85.200z" fill="#1890f0"/><path d="M85.200 2.300H93.100L96.100 4.500H88.500z" fill="#2460e0"/><path d="M85.200 2.300L88.500 4.500V10.800H85.200z" fill="#20a8fc"/><path d="M88.500 4.500V10.800" stroke="#e8f6ff" stroke-width=".7"/><rect x="90.200" y="6.400" width="4.600" height="1.300" fill="#e8f6ff"/><path d="M85.400 17.400c-2.800 0-3.200-3.500-.6-4.200 0-2 2.400-2.800 3.600-1.500 1.300-2.300 4.700-1.900 5.200.4 2.400-1 4.900.8 4.500 2.900-.2 1.300-1.100 2.400-2.700 2.400z" fill="url(#cld)" stroke="#4a64a0" stroke-width=".9"/>
<defs><linearGradient id="sg" x1="0" y1="0" x2=".3" y2="1"><stop offset="0" stop-color="#6cb46c" stop-opacity=".1"/><stop offset="1" stop-color="#3c9c3c" stop-opacity=".95"/></linearGradient></defs><path d="M119.500 2.200A7.800 7.800 0 0 1 119.500 17.800z" fill="url(#sg)"/><g fill="none" stroke-width="1.100"><path d="M119 2.300A7.600 7.600 0 0 0 119 17.500" stroke="#5478d8" opacity=".75"/><path d="M119 4.900A5 5 0 0 0 119 14.900" stroke="#5478d8" opacity=".8"/><path d="M119 2.300A7.600 7.600 0 0 1 119 17.500" stroke="#3c7890" opacity=".55"/><path d="M119 4.900A5 5 0 0 1 124 9.900" stroke="#5c90b0" opacity=".6"/><path d="M119 7.300A2.600 2.600 0 0 1 121.600 9.900" stroke="#5c90b0" opacity=".6"/></g><circle cx="118.900" cy="9.600" r="1.900" fill="#2454cc"/><rect x="118.900" y="10" width="1.400" height="7.800" fill="#1ea41e"/>
<path d="M138 9.500L154 8.700L150 14L146.600 17.800L145.200 17.600z" fill="#f8de48" stroke="#d0a414" stroke-width=".7"/><ellipse cx="146" cy="7.300" rx="8" ry="2.500" fill="#4ea4d8" stroke="#2a80b4" stroke-width=".7"/><path d="M142 6.900C142 1 149.800 1 149.800 6.900C148 8 144 8 142 6.900z" fill="#6cbcec" stroke="#2a80b4" stroke-width=".6"/><path d="M143.600 5.400C144 3.400 146.500 2.800 147.600 3.800" fill="none" stroke="#c0e6fa" stroke-width="1"/><circle cx="150.500" cy="13.600" r="4.200" fill="#e0200c"/><circle cx="150.500" cy="13.600" r="3.700" fill="none" stroke="#b81804" stroke-width=".6"/><rect x="149" y="12.100" width="3" height="2.900" fill="#fff"/>
<text x="159.5" y="13.3" style="font-family:'Liberation Sans','Noto Sans CJK SC',sans-serif;font-size:11.8px;fill:#000;stroke:#000;stroke-width:.165px" textLength="47.2" lengthAdjust="spacingAndGlyphs">自动交易</text>
<g fill="none" stroke="#555" stroke-width="1.250"><path d="M232.5 5V17.7M230.1 15.7H242.9"/></g><path d="M232.5 3.6l-2 3h4zM244.5 15.7l-3-2v4z" fill="#555"/>
<path d="M238.600 5.300V13.600M238.600 6.300H241.200M236.100 12.600H238.600" fill="none" stroke="#148c14" stroke-width="1.400"/>
<g fill="none" stroke="#555" stroke-width="1.250"><path d="M260.4 5V17.7M258 15.7H270.8"/></g><path d="M260.4 3.6l-2 3h4zM272.40000000000003 15.7l-3-2v4z" fill="#555"/>
<path d="M266.600 2.200V13.800" stroke="#0c8c0c" stroke-width="1.300"/><rect x="264.500" y="4.300" width="4.300" height="7.100" fill="url(#grn)" stroke="#0c8c0c" stroke-width=".9"/>
<g fill="none" stroke="#555" stroke-width="1.250"><path d="M288.4 5V17.7M286 15.7H298.8"/></g><path d="M288.4 3.6l-2 3h4zM300.40000000000003 15.7l-3-2v4z" fill="#555"/>
<path d="M287.200 12.600C290 11 291.500 7.200 293.200 7.200C295 7.200 296.500 10.500 298.600 11.100" fill="none" stroke="#1c8c1c" stroke-width="1.300"/>
<path d="M328.29999999999995 12.800L332.2 16.200" stroke="#9c7c08" stroke-width="3.400" stroke-linecap="round"/><path d="M328.5 13L332.0 16" stroke="#f0d040" stroke-width="1.900" stroke-linecap="round"/>
<circle cx="323.9" cy="8.100" r="5.600" fill="#dcf2fb" stroke="#3c82c8" stroke-width="1.200"/>
<path d="M320.7 8.100H327.09999999999997M323.9 4.900V11.300" stroke="#3c8cb8" stroke-width="1.700" fill="none"/>
<path d="M356.5 12.800L360.40000000000003 16.200" stroke="#9c7c08" stroke-width="3.400" stroke-linecap="round"/><path d="M356.70000000000005 13L360.20000000000005 16" stroke="#f0d040" stroke-width="1.900" stroke-linecap="round"/>
<circle cx="352.1" cy="8.100" r="5.600" fill="#dcf2fb" stroke="#3c82c8" stroke-width="1.200"/>
<path d="M348.90000000000003 8.100H355.3" stroke="#3c8cb8" stroke-width="1.700" fill="none"/>
<rect x="374.2" y="2.2" width="7.800" height="7.700" fill="#3c9c1c"/><path d="M375.7 8.7V5.4H380.5V8.7" fill="#fff"/><rect x="376.5" y="6.5" width="3.200" height="1" fill="#3c9c1c" opacity=".5"/><rect x="375.5" y="3.4000000000000004" width="1" height="1" fill="#fff" opacity=".8"/>
<rect x="382.2" y="2.2" width="7.800" height="7.700" fill="#2850d0"/><path d="M383.7 8.7V5.4H388.5V8.7" fill="#fff"/><rect x="384.5" y="6.5" width="3.200" height="1" fill="#2850d0" opacity=".5"/><rect x="383.5" y="3.4000000000000004" width="1" height="1" fill="#fff" opacity=".8"/>
<rect x="374.2" y="10" width="7.800" height="7.700" fill="#2850d0"/><path d="M375.7 16.5V13.2H380.5V16.5" fill="#fff"/><rect x="376.5" y="14.3" width="3.200" height="1" fill="#2850d0" opacity=".5"/><rect x="375.5" y="11.2" width="1" height="1" fill="#fff" opacity=".8"/>
<rect x="382.2" y="10" width="7.800" height="7.700" fill="#3c9c1c"/><path d="M383.7 16.5V13.2H388.5V16.5" fill="#fff"/><rect x="384.5" y="14.3" width="3.200" height="1" fill="#3c9c1c" opacity=".5"/><rect x="383.5" y="11.2" width="1" height="1" fill="#fff" opacity=".8"/>
<g fill="none" stroke="#555" stroke-width="1.250"><path d="M412.4 5V17.7M410 15.7H422.8"/></g><path d="M412.4 3.6l-2 3h4zM424.40000000000003 15.7l-3-2v4z" fill="#555"/>
<path d="M417.300 6.200V12.800L421 9.500z" fill="#4cd84c" stroke="#0c9c0c" stroke-width="1" stroke-linejoin="round"/>
<g fill="none" stroke="#555" stroke-width="1.250"><path d="M440.4 5V17.7M438 15.7H450.8"/></g><path d="M440.4 3.6l-2 3h4zM452.40000000000003 15.7l-3-2v4z" fill="#555"/>
<path d="M446.500 4V13.800" stroke="#1464a4" stroke-width="1.500"/><path d="M447.400 9.500L450.400 7.400L449.800 9.100H452V9.900H449.800L450.400 11.600z" fill="#e25208" stroke="#e25208" stroke-width=".5"/>
<path d="M471.500 2.600H479.800L483.200 6V15.400H471.500z" fill="#fdfdfd" stroke="#8c8c8c" stroke-width=".9"/><path d="M479.800 2.600V6H483.200" fill="#e8e8e8" stroke="#8c8c8c" stroke-width=".7"/><path d="M476.800 5.500C475.300 5.200 474.900 6 474.900 7.200V13M473.800 8.600H476.400" fill="none" stroke="#443c2c" stroke-width="1"/><path d="M479.200 8.600H483.200V12.100H486.800V16.100H483.200V19.500H479.200V16.100H475.600V12.100H479.200z" fill="#2cd02c" stroke="#0c8c0c" stroke-width=".9"/>
<path d="M492.7 9h5.600l-2.800 3.200z" fill="#000"/>
<circle cx="516.900" cy="10" r="7.300" fill="#1c7cdc" stroke="#0c4c9c" stroke-width="1"/><circle cx="516.900" cy="10" r="5.100" fill="#fff" stroke="#9cc0ec" stroke-width=".6"/><path d="M516.400 6.200V10.300H519.300" fill="none" stroke="#222" stroke-width="1.200"/><rect x="516.200" y="12.600" width="1.800" height=".8" fill="#58a0f0"/>
<path d="M531.7 9h5.600l-2.800 3.200z" fill="#000"/>
<rect x="548.600" y="3.400" width="15.200" height="13" fill="#fff" stroke="#3c78c8" stroke-width="1.100"/><rect x="548.600" y="3.400" width="15.200" height="2.200" fill="#4c8cdc"/><rect x="548.600" y="10.800" width="15.200" height="1.100" fill="#3c78c8"/><path d="M550.400 9.500H552L554 8.300H556L558 8.800H560L562 7.600" fill="none" stroke="#a01c0c" stroke-width="1.200"/><path d="M551 14.800H553L555 14H556.500L558.500 12.800L561.500 14.800" fill="none" stroke="#0c9c2c" stroke-width="1.200"/>
<path d="M570.6 9h5.600l-2.800 3.200z" fill="#000"/>
<path d="M600.200 3.100V13.900L602.700 11.700L605.400 17L607.100 16.100L604.400 11L607.900 10.700z" fill="#4c4c4c"/>
<path d="M625 10.500H631M634 10.500H640M632.500 3.100V9M632.500 12V18" stroke="#4c4c4c" stroke-width="1.400" fill="none"/><rect x="632" y="10" width="1" height="1" fill="#4c4c4c"/>
<path d="M666.500 4.100V16.800M689 10.500H701M716.800 16.600L729 4.900" stroke="#4c4c4c" stroke-width="1.250" fill="none"/>
<g stroke="#4c4c4c" fill="none"><path d="M743 12L750.500 4.400M744.500 16.300L756.500 5M748 16.800L757.200 8.200" stroke-width="1.100"/><path d="M746.500 9V15.500M749.500 6.500V13.500M752.500 5V11.500M754.800 2.200V8.500" stroke-width=".9"/></g>
<text x="753.600" y="18.600" style="font-size:6.500px;font-weight:bold;fill:#333;stroke:none">E</text>
<g stroke="#4c4c4c" stroke-width="1" stroke-dasharray="1 1.030" fill="none"><path d="M772 3.500H785.500M772 6.500H785.500M772 10.500H785.500M772 14.500H781"/></g>
<text x="782" y="18.600" style="font-size:6.500px;font-weight:bold;fill:#333;stroke:none">F</text>
<text x="802.300" y="14.800" style="font-size:11.800px;fill:#555;stroke:none" textLength="8.200" lengthAdjust="spacingAndGlyphs">A</text>
<rect x="829.500" y="4.500" width="11" height="12" fill="none" stroke="#4c4c4c" stroke-width="1" stroke-dasharray="1 1" shape-rendering="crispEdges"/><rect x="828.500" y="3.300" width="1.600" height="1" fill="#4c4c4c"/>
<path d="M831.200 7.900H838.700M835 7.900V14.800" stroke="#555" stroke-width="1.400" fill="none"/>
<path d="M859.400 3.800L863.100 7.800H860.800V8.800H858.100V7.800H855.800zM866.500 17L863 13.300H865.200V12.200H867.800V13.300H870.100z" fill="#4c4c4c"/><path d="M858.100 11.300L860.500 13.500L864.800 8.200" fill="none" stroke="#4c4c4c" stroke-width="1.300"/>
<path d="M876.7 9h5.600l-2.800 3.200z" fill="#000"/>
<text x="903.6" y="14" style="font-size:9.800px;fill:#444;stroke:none" textLength="12.6" lengthAdjust="spacingAndGlyphs">M1</text>
<text x="931.8" y="14" style="font-size:9.800px;fill:#444;stroke:none" textLength="12.4" lengthAdjust="spacingAndGlyphs">M5</text>
<text x="957.7" y="14" style="font-size:9.800px;fill:#444;stroke:none" textLength="17.4" lengthAdjust="spacingAndGlyphs">M15</text>
<text x="985.5" y="14" style="font-size:9.800px;fill:#444;stroke:none" textLength="17.9" lengthAdjust="spacingAndGlyphs">M30</text>
<text x="1016.8" y="14" style="font-size:9.800px;fill:#444;stroke:none" textLength="11.1" lengthAdjust="spacingAndGlyphs">H1</text>
<text x="1043.5" y="14" style="font-size:9.800px;fill:#444;stroke:none" textLength="12.5" lengthAdjust="spacingAndGlyphs">H4</text>
<text x="1072.6" y="14" style="font-size:9.800px;fill:#444;stroke:none" textLength="11.7" lengthAdjust="spacingAndGlyphs">D1</text>
<text x="1099.9" y="14" style="font-size:9.800px;fill:#444;stroke:none" textLength="14.1" lengthAdjust="spacingAndGlyphs">W1</text>
<text x="1126.6" y="14" style="font-size:9.800px;fill:#444;stroke:none" textLength="14.8" lengthAdjust="spacingAndGlyphs">MN</text>
<path d="M1617.200 10L1611.800 14.800" stroke="#2458c8" stroke-width="2.200" stroke-linecap="round"/><circle cx="1620" cy="7.200" r="3.600" fill="#f4f8ff" stroke="#2c5cd0" stroke-width="1.200"/>
<path d="M1636.600 12.400c0-2.700 2.300-4.600 5.300-4.600s5.300 1.900 5.300 4.600c0 2.200-2.300 3.800-5.300 3.800-.6 0-1.200-.1-1.700-.2l-1.600 2.200-.1-2.700c-1.200-.7-1.900-1.800-1.900-3.100z" fill="#d4d8e0" stroke="#c0c0c4" stroke-width=".7"/>
<circle cx="1650.600" cy="7.400" r="8.300" fill="url(#redb)"/><path d="M1646.900 4.800L1649.500 3.200V11.600M1646.800 11.700H1652.600" stroke="#fff" stroke-width="1.300" fill="none"/>
</svg></body></html>
